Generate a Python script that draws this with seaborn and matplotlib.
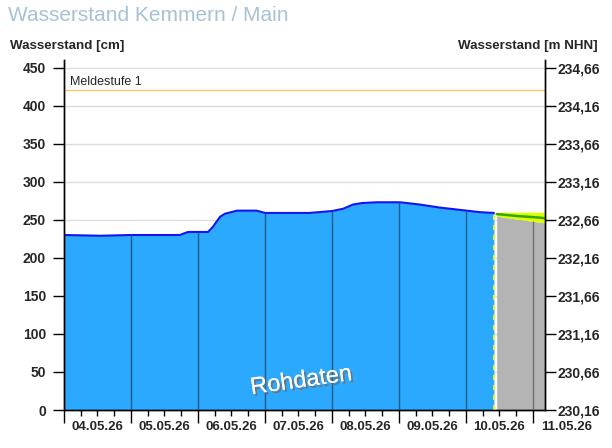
import matplotlib
matplotlib.use("Agg")
import matplotlib.pyplot as plt
import matplotlib.dates as mdates
import matplotlib.patheffects as pe
import numpy as np
import pandas as pd
import seaborn as sns

# Gauge data, hours since 04.05.26 00:00, water level in cm
obs_hours = [0, 13, 24, 34, 41.5, 44.4, 51.6, 53.4, 55.9, 57.7, 62, 69, 72, 88, 96,
             100, 103.5, 106.7, 112, 120.4, 127.5, 134.7, 141.9, 149, 154]
obs_level = [230, 229, 230, 230, 230, 234, 234, 241, 254, 258, 262, 262, 259, 259, 261.5,
             264.5, 270, 272, 273, 273, 270, 266, 263, 260, 259]

# Forecast
fc_hours = [155, 158, 162, 166, 170, 172.3]
fc_mid = [257.5, 256.5, 255, 254, 253, 252]
fc_low = [255, 253, 251, 249, 247, 246]
fc_high = [260, 260, 260, 260, 260, 260]

now_hours = 154
meldestufe = 420
day_labels = ["04.05.26", "05.05.26", "06.05.26", "07.05.26", "08.05.26",
              "09.05.26", "10.05.26", "11.05.26"]
y_ticks = [0, 50, 100, 150, 200, 250, 300, 350, 400, 450]
nhn_zero = 230.16

base = pd.Timestamp("2026-05-04")
obs = pd.DataFrame({"time": base + pd.to_timedelta(obs_hours, unit="h"), "level": obs_level})
fc = pd.DataFrame({"time": base + pd.to_timedelta(fc_hours, unit="h"),
                   "mid": fc_mid, "low": fc_low, "high": fc_high})
now = base + pd.Timedelta(hours=now_hours)
x_end = base + pd.Timedelta(hours=172.3)

sns.set_style("white")
plt.rcParams["font.family"] = ["Liberation Sans", "DejaVu Sans"]

fig = plt.figure(figsize=(6.12, 4.48), dpi=100)
ax = fig.add_axes([64 / 612, 38 / 448, 481 / 612, 350 / 448])

# grid
for v in y_ticks:
    ax.axhline(v, color="#DDDDDD", lw=1, zorder=0)
ax.axhline(meldestufe, color="#F5C56A", lw=1, zorder=1)
ax.text(base + pd.Timedelta(hours=2), meldestufe + 3, "Meldestufe 1", fontsize=9, va="bottom")

# observed
ax.fill_between(obs["time"], 0, obs["level"], color="#2AA9FF", lw=0, zorder=2)
sns.lineplot(data=obs, x="time", y="level", ax=ax, color="#1414F0", lw=1.5, zorder=3)

# forecast
ax.fill_between(fc["time"], 0, fc["low"], color="#B4B4B4", lw=0, zorder=2)
ax.fill_between(fc["time"], fc["low"], fc["high"], color="#DDFF00", lw=0, zorder=2)
sns.lineplot(data=fc, x="time", y="mid", ax=ax, color="#33A800", lw=1.8, zorder=3)

# day lines inside filled area
all_h = obs_hours + fc_hours
all_top = obs_level + fc_low
for d in range(1, 8):
    h = d * 24
    top = np.interp(h, all_h, all_top)
    col = "#707070" if h > now_hours else "#1E5A82"
    ax.vlines(base + pd.Timedelta(hours=h), 0, top, color=col, lw=1, zorder=4)

ax.vlines(now, 0, np.interp(now_hours, obs_hours, obs_level), color="#FFFF00",
          lw=1.2, linestyles=(0, (3, 3)), zorder=5)

ax.text(base + pd.Timedelta(hours=85), 38, "Rohdaten", fontsize=17, color="white",
        rotation=8, ha="center", va="center", zorder=6,
        path_effects=[pe.withSimplePatchShadow(offset=(1.5, -1.5), shadow_rgbFace="#707070", alpha=0.9),
                      pe.Normal()])

ax.set_xlim(base, x_end)
ax.set_ylim(0, 460)
ax.set_xlabel("")
ax.set_ylabel("")

ax.xaxis.set_major_locator(mdates.DayLocator())
ax.xaxis.set_minor_locator(mdates.HourLocator(byhour=[6, 12, 18]))
ax.xaxis.set_major_formatter(plt.NullFormatter())
ax.tick_params(axis="x", which="major", length=9, width=1, direction="out", bottom=True, color="black")
ax.tick_params(axis="x", which="minor", length=4, width=1, direction="out", bottom=True, color="black")
for i, lab in enumerate(day_labels):
    ax.text(base + pd.Timedelta(hours=24 * i + 12), -14, lab, ha="center", va="top",
            fontsize=9.5, fontweight="bold", clip_on=False)

ax.set_yticks(y_ticks)
ax.set_yticklabels([str(v) for v in y_ticks], fontsize=10, fontweight="bold")
ax.tick_params(axis="y", length=8, width=1, direction="out", left=True, color="black", pad=5)

ax2 = ax.twinx()
ax2.set_ylim(ax.get_ylim())
ax2.set_yticks(y_ticks)
ax2.set_yticklabels([f"{nhn_zero + v / 100:.2f}".replace(".", ",") for v in y_ticks],
                    fontsize=10, fontweight="bold")
ax2.tick_params(axis="y", length=8, width=1, direction="out", right=True, color="black", pad=1)
for t in ax2.yaxis.get_major_ticks():
    t.label2.set_fontweight("bold")

for a in (ax, ax2):
    a.spines["top"].set_visible(False)
    for s in ("left", "right", "bottom"):
        a.spines[s].set_color("black")
        a.spines[s].set_linewidth(1)

fig.text(8 / 612, 1 - 6 / 448, "Wasserstand Kemmern / Main", fontsize=15, color="#A7C2D4",
         ha="left", va="top")
fig.text(10 / 612, 1 - 40 / 448, "Wasserstand [cm]", fontsize=9.6, fontweight="bold",
         ha="left", va="top")
fig.text(598 / 612, 1 - 40 / 448, "Wasserstand [m NHN]", fontsize=9.6, fontweight="bold",
         ha="right", va="top")

fig.savefig("out.png", dpi=100)
